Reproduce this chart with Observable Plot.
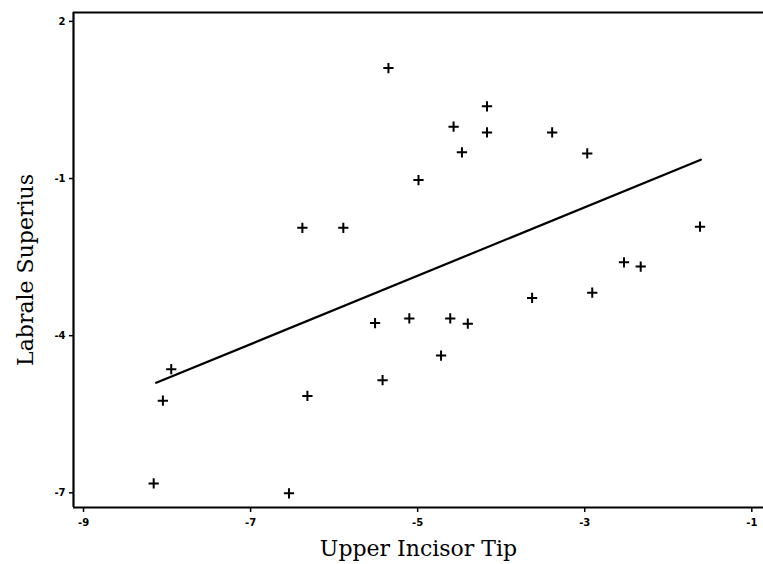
<!DOCTYPE html>
<html>
<head>
<meta charset="utf-8">
<script src="https://cdn.jsdelivr.net/npm/d3@7"></script>
<script src="https://cdn.jsdelivr.net/npm/@observablehq/plot@0.6"></script>
<style>
  html, body { margin: 0; padding: 0; background: #fff; }
  #chart svg { display: block; }
</style>
</head>
<body>
<div id="chart"></div>
<script>
// Upper Incisor Tip (x) vs Labrale Superius (y)
const incisorTip = [-5.35, -4.17, -4.57, -4.17, -3.39, -4.47, -2.97, -4.99, -1.62, -2.53, -2.33,
  -6.38, -5.89, -7.95, -8.05, -6.32, -8.16, -6.54, -5.51, -3.63, -2.91, -5.10, -4.61, -4.40, -4.72, -5.42];
const labraleSup = [1.11, 0.38, -0.01, -0.12, -0.12, -0.50, -0.52, -1.03, -1.92, -2.60, -2.68,
  -1.94, -1.94, -4.64, -5.24, -5.15, -6.82, -7.01, -3.76, -3.28, -3.18, -3.67, -3.67, -3.77, -4.38, -4.85];
// fitted regression line endpoints
const fitX = [-8.13, -1.61];
const fitY = [-4.90, -0.64];
// axis ticks
const xTicks = [-9, -7, -5, -3, -1];
const yTicks = [-7, -4, -1, 2];
// frame extents
const xFrame = [-9.12, -0.86];
const yFrame = [-7.28, 2.17];

const points = incisorTip.map((x, i) => ({x, y: labraleSup[i]}));
const fit = fitX.map((x, i) => ({x, y: fitY[i]}));

const chart = Plot.plot({
  width: 763,
  height: 564,
  marginLeft: 73,
  marginRight: 0,
  marginTop: 12,
  marginBottom: 57,
  style: {background: "#fff", color: "#000"},
  x: {domain: xFrame},
  y: {domain: yFrame},
  marks: [
    Plot.ruleX([xFrame[0]], {stroke: "#000", strokeWidth: 2.2}),
    Plot.ruleY([yFrame[0]], {stroke: "#000", strokeWidth: 2.2}),
    Plot.ruleY([yFrame[1]], {stroke: "#000", strokeWidth: 2.2}),
    Plot.axisX({ticks: xTicks, tickFormat: d => String(d), label: null, tickSize: 5, tickPadding: 6,
      fontSize: 10, fontWeight: "bold", fontFamily: "DejaVu Sans", strokeWidth: 1.5}),
    Plot.axisY({ticks: yTicks, tickFormat: d => String(d), label: null, tickSize: 4, tickPadding: 4,
      fontSize: 10, fontWeight: "bold", fontFamily: "DejaVu Sans", strokeWidth: 1.5}),
    Plot.line(fit, {x: "x", y: "y", stroke: "#000", strokeWidth: 2.2}),
    Plot.dot(points, {x: "x", y: "y", symbol: "plus", r: 3.4, stroke: "#000", strokeWidth: 2}),
    Plot.text(["Upper Incisor Tip"], {frameAnchor: "bottom", dy: 41, fontSize: 22,
      fontFamily: "DejaVu Serif", fill: "#000", textAnchor: "middle", lineAnchor: "middle",
      style: "word-spacing:4px"}),
    Plot.text(["Labrale Superius"], {frameAnchor: "left", rotate: -90, dx: -48, dy: 10, fontSize: 22,
      fontFamily: "DejaVu Serif", fill: "#000", textAnchor: "middle", lineAnchor: "middle",
      style: "word-spacing:4px"})
  ]
});
document.getElementById("chart").append(chart);
</script>
</body>
</html>
